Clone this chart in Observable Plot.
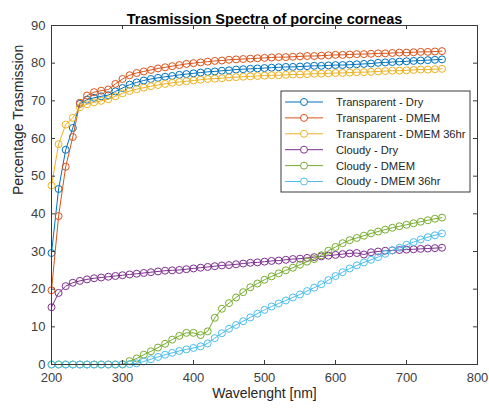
<!DOCTYPE html>
<html>
<head>
<meta charset="utf-8">
<script src="https://cdn.jsdelivr.net/npm/d3@7"></script>
<script src="https://cdn.jsdelivr.net/npm/@observablehq/plot@0.6"></script>
<style>
  html, body { margin: 0; padding: 0; background: #fff; }
  #chart { width: 489px; height: 410px; }
  #chart svg { font-family: "Liberation Sans", Arial, sans-serif; background: #fff; }
</style>
</head>
<body>
<div id="chart"></div>
<script>
// Wavelength samples (nm)
const wavelength = [200,210,220,230,240,250,260,270,280,290,300,310,320,330,340,350,360,370,380,390,
  400,410,420,430,440,450,460,470,480,490,500,510,520,530,540,550,560,570,580,590,
  600,610,620,630,640,650,660,670,680,690,700,710,720,730,740,750];

// Percentage transmission per sample
const transparentDry = [29.6,46.6,57,62.8,69.2,70.3,70.8,71.2,71.5,72.5,73.4,74.3,74.9,75.4,75.8,76.1,76.4,76.6,76.9,77.1,
  77.3,77.5,77.7,77.8,78,78.1,78.3,78.4,78.5,78.6,78.7,78.8,78.9,79,79,79.1,79.2,79.3,79.3,79.4,
  79.5,79.5,79.6,79.7,79.8,79.9,80.1,80.2,80.3,80.4,80.5,80.6,80.7,80.8,80.9,81];
const transparentDMEM = [19.7,39.4,52.5,60.4,69.5,71.4,72.3,72.7,73,74.5,75.8,76.8,77.4,77.8,78.2,78.6,78.9,79.2,79.5,79.8,
  80,80.2,80.4,80.6,80.7,80.9,81,81.1,81.2,81.3,81.4,81.5,81.6,81.6,81.7,81.8,81.9,81.9,82,82.1,
  82.2,82.2,82.3,82.4,82.4,82.5,82.6,82.6,82.7,82.8,82.8,82.9,83,83,83.1,83.2];
const transparentDMEM36 = [47.5,58.5,63.7,65.5,68.3,69.1,69.6,70,70.4,71.2,72,72.6,73.1,73.5,73.9,74.2,74.5,74.8,75,75.2,
  75.4,75.6,75.8,75.9,76,76.2,76.3,76.4,76.5,76.6,76.7,76.8,76.8,76.9,77,77,77.1,77.2,77.2,77.3,
  77.4,77.4,77.5,77.6,77.6,77.7,77.8,77.9,78,78,78.1,78.2,78.3,78.3,78.4,78.5];
const cloudyDry = [15.2,19,20.8,21.7,22.2,22.6,22.9,23.1,23.3,23.5,23.7,23.9,24.1,24.3,24.5,24.7,24.9,25,25.1,25.3,
  25.5,25.7,25.9,26.1,26.3,26.4,26.6,26.8,27,27.1,27.3,27.5,27.6,27.8,28,28.1,28.3,28.5,28.7,28.9,
  29.1,29.3,29.5,29.6,29.2,29.8,30,30.2,30.3,30.4,30.5,30.6,30.7,30.8,30.9,31];
const cloudyDMEM = [0,0,0,0,0,0,0,0,0,0,0,0.9,1.6,2.6,3.5,4.5,5.5,6.6,7.6,8.4,
  8.4,7.8,8.8,12.4,14.8,16.3,17.8,19.2,20.5,21.5,22.5,23.4,24.2,25,25.7,26.5,27.3,28,29,30.2,
  31.2,32.2,33,33.6,34.2,34.8,35.3,35.8,36.3,36.7,37.1,37.5,37.9,38.3,38.7,39];
const cloudyDMEM36 = [0,0,0,0,0,0,0,0,0,0,0.1,0.1,0.3,0.8,1.4,2,2.6,3.1,3.6,4,
  4.4,4.8,5.6,7,8.3,9.5,10.5,11.5,12.5,13.5,14.5,15.4,16.2,17,17.8,18.6,19.5,20.4,21.3,22.4,
  23.5,24.5,25.5,26.3,27.1,27.8,28.5,29.4,30.3,31,31.8,32.5,33.2,33.8,34.3,34.8];

const seriesNames = ["Transparent - Dry", "Transparent - DMEM", "Transparent - DMEM 36hr",
  "Cloudy - Dry", "Cloudy - DMEM", "Cloudy - DMEM 36hr"];
const seriesValues = [transparentDry, transparentDMEM, transparentDMEM36, cloudyDry, cloudyDMEM, cloudyDMEM36];
const seriesColors = ["#0072BD", "#D95319", "#EDB120", "#7E2F8E", "#77AC30", "#4DBEEE"];

const xTicks = [200,300,400,500,600,700,800];
const yTicks = [0,10,20,30,40,50,60,70,80,90];

const titleText = "Trasmission Spectra of porcine corneas";
const xLabel = "Wavelenght [nm]";
const yLabel = "Percentage Trasmission";

// Layout
const W = 489, H = 410;
const margin = {top: 25, right: 12, bottom: 46, left: 51};
const plotW = W - margin.left - margin.right;
const plotH = H - margin.top - margin.bottom;
const tickLen = 4;
const axisColor = "#3a3a3a";

const rows = seriesNames.flatMap((name, i) =>
  wavelength.map((w, j) => ({series: name, wavelength: w, value: seriesValues[i][j]})));

const seriesMarks = seriesNames.flatMap((name, i) => {
  const d = rows.filter(r => r.series === name);
  return [
    Plot.line(d, {x: "wavelength", y: "value", stroke: seriesColors[i], strokeWidth: 1}),
    Plot.dot(d, {x: "wavelength", y: "value", r: 3.5, stroke: seriesColors[i], strokeWidth: 1, fill: "none"})
  ];
});

const chart = Plot.plot({
  width: W,
  height: H,
  marginTop: margin.top,
  marginRight: margin.right,
  marginBottom: margin.bottom,
  marginLeft: margin.left,
  style: {background: "#fff", fontFamily: "Liberation Sans, Arial, sans-serif"},
  x: {domain: [200, 800]},
  y: {domain: [0, 90]},
  marks: [
    ...seriesMarks,
    // box and inward ticks on all four sides
    Plot.frame({stroke: axisColor, strokeWidth: 1}),
    Plot.tickX(xTicks, {x: d => d, insetTop: plotH - tickLen, stroke: axisColor}),
    Plot.tickX(xTicks, {x: d => d, insetBottom: plotH - tickLen, stroke: axisColor}),
    Plot.tickY(yTicks, {y: d => d, insetRight: plotW - tickLen, stroke: axisColor}),
    Plot.tickY(yTicks, {y: d => d, insetLeft: plotW - tickLen, stroke: axisColor}),
    Plot.axisX(xTicks, {anchor: "bottom", tickSize: 0, tickPadding: 8, label: null, fontSize: 13, fill: "#404040"}),
    Plot.axisY(yTicks, {anchor: "left", tickSize: 0, tickPadding: 6, label: null, fontSize: 13, fill: "#404040"}),
    Plot.text([xLabel], {frameAnchor: "bottom", dy: 33, fontSize: 14, fill: "#262626"}),
    Plot.text([yLabel], {frameAnchor: "left", dx: -33, rotate: -90, fontSize: 14, fill: "#262626"}),
    Plot.text([titleText], {frameAnchor: "top", dy: -12, fontSize: 14.5, fontWeight: "bold", fill: "#000"})
  ]
});

document.getElementById("chart").appendChild(chart);

// Legend box in the upper right of the axes
const svg = d3.select(chart);
const legend = svg.append("g").attr("transform", "translate(281,91)");
legend.append("rect")
  .attr("width", 189).attr("height", 101)
  .attr("fill", "#fff").attr("stroke", axisColor).attr("stroke-width", 1);
seriesNames.forEach((name, i) => {
  const yy = 11 + i * 15.9;
  const g = legend.append("g").attr("transform", `translate(0,${yy})`);
  g.append("line").attr("x1", 4).attr("x2", 42).attr("stroke", seriesColors[i]).attr("stroke-width", 1);
  g.append("circle").attr("cx", 23).attr("r", 3.5).attr("fill", "#fff").attr("stroke", seriesColors[i]).attr("stroke-width", 1);
  g.append("text").attr("x", 55).attr("dy", "0.35em")
    .attr("text-anchor", "start")
    .attr("font-size", 11.2).attr("fill", "#262626")
    .attr("font-family", "Liberation Sans, Arial, sans-serif")
    .text(name);
});
</script>
</body>
</html>
